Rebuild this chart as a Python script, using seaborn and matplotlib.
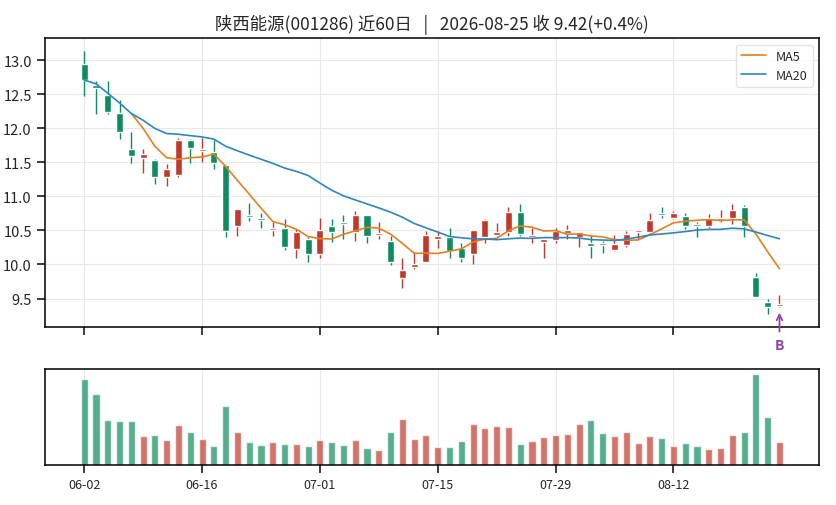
import numpy as np
import pandas as pd
import matplotlib
matplotlib.use("Agg")
import matplotlib.pyplot as plt
import seaborn as sns

# daily prices, 60 trading days 2026-06-02 .. 2026-08-25
opens = [12.95, 12.61, 12.49, 12.23, 11.70, 11.56, 11.53, 11.28, 11.32, 11.83,
         11.67, 11.65, 11.46, 10.57, 10.72, 10.66, 10.50, 10.54, 10.23, 10.37,
         10.16, 10.56, 10.61, 10.47, 10.72, 10.43, 10.34, 9.80, 9.96, 10.04,
         10.37, 10.41, 10.24, 10.15, 10.41, 10.44, 10.47, 10.77, 10.40, 10.33,
         10.36, 10.46, 10.41, 10.31, 10.31, 10.22, 10.29, 10.48, 10.47, 10.73,
         10.68, 10.71, 10.57, 10.57, 10.65, 10.68, 10.84, 9.81, 9.45, 9.39]
highs = [13.13, 12.70, 12.69, 12.42, 11.94, 11.70, 11.55, 11.47, 11.86, 11.84,
         11.86, 11.83, 11.47, 10.82, 10.91, 10.75, 10.62, 10.67, 10.52, 10.41,
         10.68, 10.67, 10.72, 10.78, 10.73, 10.62, 10.42, 10.09, 10.18, 10.49,
         10.49, 10.54, 10.32, 10.51, 10.67, 10.61, 10.85, 10.89, 10.53, 10.37,
         10.53, 10.58, 10.48, 10.43, 10.35, 10.43, 10.49, 10.49, 10.75, 10.85,
         10.78, 10.75, 10.62, 10.74, 10.80, 10.89, 10.87, 9.88, 9.49, 9.55]
lows = [12.47, 12.21, 12.21, 11.84, 11.49, 11.34, 11.18, 11.15, 11.29, 11.49,
        11.50, 11.41, 10.40, 10.42, 10.64, 10.54, 10.42, 10.22, 10.09, 10.03,
        10.09, 10.33, 10.38, 10.34, 10.32, 10.37, 9.99, 9.66, 9.94, 10.03,
        10.24, 10.10, 10.03, 10.00, 10.31, 10.42, 10.42, 10.42, 10.31, 10.10,
        10.31, 10.38, 10.25, 10.10, 10.17, 10.20, 10.26, 10.38, 10.45, 10.68,
        10.67, 10.52, 10.41, 10.53, 10.62, 10.60, 10.41, 9.52, 9.27, 9.37]
closes = [12.71, 12.60, 12.24, 11.94, 11.60, 11.62, 11.28, 11.40, 11.83, 11.71,
          11.68, 11.49, 10.49, 10.81, 10.70, 10.65, 10.51, 10.25, 10.48, 10.16,
          10.50, 10.48, 10.60, 10.73, 10.42, 10.44, 10.04, 9.92, 10.00, 10.43,
          10.42, 10.20, 10.10, 10.50, 10.65, 10.46, 10.77, 10.45, 10.41, 10.37,
          10.49, 10.50, 10.47, 10.27, 10.29, 10.30, 10.45, 10.49, 10.65, 10.72,
          10.75, 10.57, 10.56, 10.69, 10.66, 10.80, 10.57, 9.52, 9.38, 9.42]
volume = [26.1, 21.3, 13.5, 13.2, 13.2, 8.7, 9.0, 7.5, 12.0, 9.9,
          7.8, 5.7, 17.7, 9.9, 6.9, 6.0, 6.9, 6.3, 6.3, 5.7,
          7.5, 6.9, 6.0, 7.5, 5.1, 4.5, 9.9, 13.8, 7.8, 9.0,
          5.4, 5.4, 7.2, 12.3, 11.1, 11.7, 11.4, 6.3, 7.2, 8.4,
          9.0, 9.3, 12.3, 13.5, 9.6, 8.7, 9.9, 6.6, 8.7, 8.1,
          5.7, 6.6, 5.7, 4.8, 5.1, 9.0, 9.9, 27.6, 14.4, 6.9]
tick_pos = [0, 10, 20, 30, 40, 50]
tick_labels = ["06-02", "06-16", "07-01", "07-15", "07-29", "08-12"]
title = "陕西能源(001286) 近60日   |   2026-08-25 收 9.42(+0.4%)"

UP = "#c0392b"
DOWN = "#0e8c5f"

df = pd.DataFrame({"open": opens, "high": highs, "low": lows,
                   "close": closes, "volume": volume})
df["i"] = np.arange(len(df))
df["ma5"] = df["close"].rolling(5).mean()
df["ma20"] = df["close"].rolling(20, min_periods=1).mean()
colors = [UP if c >= o else DOWN for o, c in zip(df["open"], df["close"])]

sns.set_theme(style="ticks")
plt.rcParams["font.family"] = ["Noto Sans CJK SC", "DejaVu Sans"]
plt.rcParams["axes.unicode_minus"] = False
plt.rcParams["axes.edgecolor"] = "black"
plt.rcParams["axes.linewidth"] = 1.1

fig = plt.figure(figsize=(8.36, 5.06), dpi=100)
ax = fig.add_axes([0.0538, 0.3512, 0.9258, 0.5711])
axv = fig.add_axes([0.0538, 0.0791, 0.9258, 0.1897], sharex=ax)

# candles
ax.vlines(df["i"], df["low"], df["high"], colors=colors, lw=1, zorder=2)
body = np.maximum((df["close"] - df["open"]).abs(), 0.03)
ax.bar(df["i"], body, bottom=np.minimum(df["open"], df["close"]),
       width=0.6, color=colors, zorder=3)

sns.lineplot(data=df, x="i", y="ma5", ax=ax, color="#e67e22", lw=1.2,
             label="MA5", zorder=4)
sns.lineplot(data=df, x="i", y="ma20", ax=ax, color="#2e86c1", lw=1.2,
             label="MA20", zorder=4)

last = len(df) - 1
ax.annotate("B", xy=(last, df["low"].iloc[last] * 0.996),
            xytext=(0, -25), textcoords="offset points",
            ha="center", va="center", color="#8e44ad", fontsize=10,
            fontweight="bold", annotation_clip=False,
            arrowprops=dict(arrowstyle="->", color="#8e44ad", lw=1.3))

ax.set_title(title, fontsize=12.5, pad=7)
ax.set_xlabel("")
ax.set_ylabel("")
ax.set_yticks(np.arange(9.5, 13.01, 0.5))
ax.yaxis.set_major_formatter(matplotlib.ticker.FormatStrFormatter("%.1f"))
ax.tick_params(axis="y", labelsize=10.5)
ax.tick_params(axis="x", labelbottom=False)
ax.grid(True, color="#e8e8e8", lw=0.8)
ax.set_axisbelow(True)
leg = ax.legend(loc="upper right", fontsize=9, frameon=True)
leg.get_frame().set_edgecolor("#dddddd")

# volume
axv.bar(df["i"], df["volume"], width=0.6, color=colors, alpha=0.7)
axv.set_yticks([])
axv.set_xticks(tick_pos)
axv.set_xticklabels(tick_labels)
axv.tick_params(axis="x", labelsize=9)
axv.grid(True, axis="x", color="#e8e8e8", lw=0.8)
axv.set_axisbelow(True)
axv.set_xlim(-3.33, 62.35)

fig.savefig("out.png", dpi=100)
